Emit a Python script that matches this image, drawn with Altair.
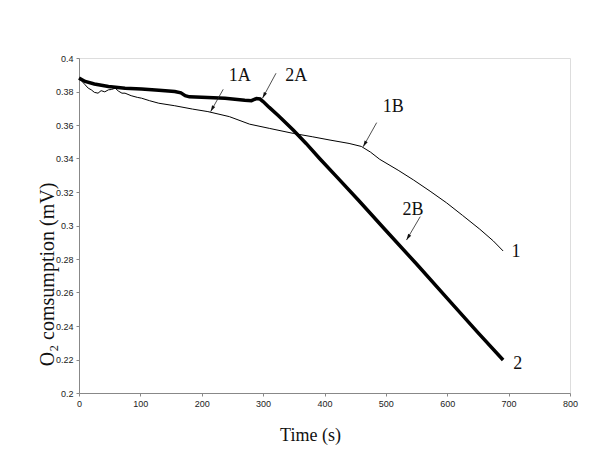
import altair as alt
import pandas as pd

# Curve 1 (thin line)
c1_time = [0, 5, 10, 15, 20, 25, 31, 36, 42, 48, 53, 59, 64, 70, 75, 85, 95, 102, 115, 130, 156, 185, 210, 245, 278,
           310, 349, 380, 409, 440, 460, 475, 490, 520, 545, 572, 599, 625, 653, 675, 691]
c1_o2 = [0.388, 0.386, 0.384, 0.382, 0.381, 0.3795, 0.379, 0.3805, 0.3798, 0.381, 0.3812, 0.382, 0.3803, 0.379,
         0.379, 0.3775, 0.3765, 0.376, 0.3745, 0.373, 0.3715, 0.3695, 0.368, 0.365, 0.3605,
         0.358, 0.355, 0.353, 0.351, 0.349, 0.3472, 0.3438, 0.3395, 0.333, 0.3272, 0.3205, 0.3135, 0.306, 0.2978, 0.2908, 0.2848]

# Curve 2 (thick line)
c2_time = [0, 10, 25, 48, 75, 102, 130, 156, 166, 173, 180, 200, 238, 270, 281, 289, 295, 300, 310, 325, 349, 370, 392,
           420, 455, 500, 550, 604, 650, 691]
c2_o2 = [0.388, 0.386, 0.3845, 0.383, 0.382, 0.3815, 0.3808, 0.380, 0.3792, 0.3775, 0.3768, 0.3765, 0.376, 0.3748, 0.3745,
         0.3758, 0.3755, 0.374, 0.3705, 0.3655, 0.357, 0.349, 0.340, 0.329, 0.3152, 0.297, 0.277, 0.2549, 0.236, 0.2197]

# Annotation labels
label_text = ["1A", "2A", "1B", "2B", "1", "2"]
label_x = [262, 354, 512, 544, 712, 715]
label_y = [0.3895, 0.3895, 0.3705, 0.3093, 0.284, 0.2175]

# Annotation arrows (start -> tip)
arrow_x = [235, 321, 485, 556]
arrow_y = [0.3813, 0.3909, 0.3614, 0.3053]
arrow_x2 = [214.5, 299, 463, 533.6]
arrow_y2 = [0.368, 0.376, 0.347, 0.2913]
arrow_angle = [209, 208, 209, 211]

x_ticks = [0, 100, 200, 300, 400, 500, 600, 700, 800]
y_ticks = [0.2, 0.22, 0.24, 0.26, 0.28, 0.3, 0.32, 0.34, 0.36, 0.38, 0.4]

df1 = pd.DataFrame({"t": c1_time, "v": c1_o2})
df2 = pd.DataFrame({"t": c2_time, "v": c2_o2})
lab = pd.DataFrame({"label": label_text, "t": label_x, "v": label_y})
arr = pd.DataFrame({"t": arrow_x, "v": arrow_y, "t2": arrow_x2, "v2": arrow_y2, "ang": arrow_angle})

xscale = alt.Scale(domain=[0, 800], nice=False, zero=False)
yscale = alt.Scale(domain=[0.2, 0.4], nice=False, zero=False)

xaxis = alt.Axis(values=x_ticks, title="Time (s)", grid=False, labelFont="Liberation Sans",
                 labelFontSize=9, labelColor="#222", domainColor="#888", tickColor="#888",
                 tickSize=3, labelPadding=3, labelOverlap=False, labelFlush=False,
                 titleFont="Liberation Serif", titleFontSize=18,
                 titleFontWeight="normal", titleColor="#111", titleX=231, titleY=47,
                 titleBaseline="alphabetic", titleAlign="center")
yaxis = alt.Axis(values=y_ticks, labelExpr="format(datum.value, '.2~f')", title="O₂ comsumption (mV)",
                 grid=False, labelFont="Liberation Sans", labelFontSize=9, labelColor="#222",
                 domainColor="#888", tickColor="#888", tickSize=3, labelPadding=3,
                 labelOverlap=False, labelFlush=False, labelSeparation=0, labelBound=False,
                 titleFont="Liberation Serif", titleFontSize=20, titleFontWeight="normal",
                 titleColor="#111", titleX=-26, titleY=216, titleAngle=270,
                 titleBaseline="alphabetic", titleAlign="center")

X = lambda f: alt.X(f, type="quantitative", scale=xscale, axis=xaxis)
Y = lambda f: alt.Y(f, type="quantitative", scale=yscale, axis=yaxis)

line1 = alt.Chart(df1).mark_line(color="black", strokeWidth=1).encode(
    x=X("t"), y=Y("v"), order="t:Q",
)
line2 = alt.Chart(df2).mark_line(color="black", strokeWidth=3.5).encode(
    x=X("t"), y=Y("v"), order="t:Q"
)
rules = alt.Chart(arr).mark_rule(color="#222", strokeWidth=0.8).encode(
    x=X("t"), y=Y("v"), x2="t2:Q", y2="v2:Q"
)
heads = alt.Chart(arr).mark_point(
    shape="M0,0L0.45,1.6L-0.45,1.6Z", filled=True, color="#111", size=60, opacity=1
).encode(
    x=X("t2"), y=Y("v2"),
    angle=alt.Angle("ang:Q", scale=None),
)
texts = alt.Chart(lab).mark_text(font="Liberation Serif", fontSize=18, color="#111",
                                 align="center", baseline="middle").encode(
    x=X("t"), y=Y("v"), text="label:N"
)

chart = alt.layer(line1, line2, rules, heads, texts).properties(
    width=491, height=335,
    autosize=alt.AutoSizeParams(type="none"),
    padding={"left": 71, "top": 50, "right": 14, "bottom": 55},
).configure_view(stroke=None).configure(background="white").configure_axis(
    labelOverlap=False
)

chart.save("out.html", embed_options={"renderer": "svg", "actions": False})
